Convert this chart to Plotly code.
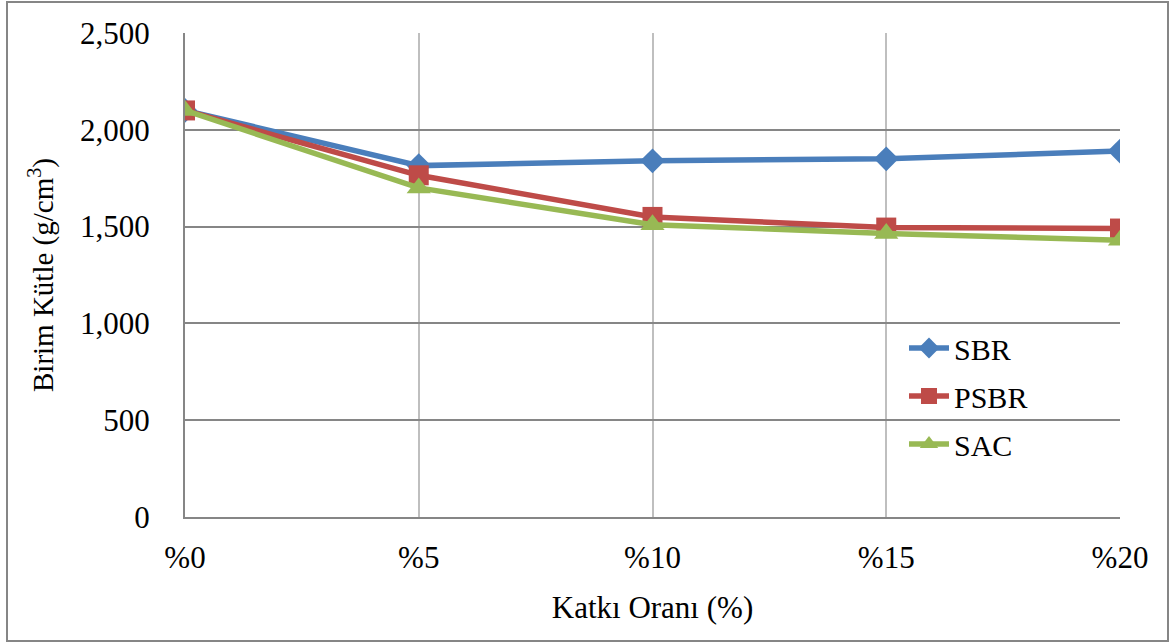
import plotly.graph_objects as go

categories = ["%0", "%5", "%10", "%15", "%20"]
sbr = [2100, 1815, 1840, 1850, 1890]
psbr = [2100, 1765, 1550, 1495, 1490]
sac = [2100, 1700, 1510, 1465, 1430]
y_ticks = [0, 500, 1000, 1500, 2000, 2500]
y_ticktext = ["0", "500", "1,000", "1,500", "2,000", "2,500"]

FONT = "Liberation Serif, Times New Roman, serif"

fig = go.Figure()
series = [
    ("SBR", sbr, "#4A7EBB", "diamond", 19),
    ("PSBR", psbr, "#BE4B48", "square", 20),
    ("SAC", sac, "#98B954", "triangle-up", 21),
]
for name, vals, col, sym, sz in series:
    fig.add_trace(go.Scatter(
        x=categories, y=vals, name=name, mode="lines+markers",
        line=dict(color=col, width=5.5),
        marker=dict(symbol=sym, size=sz, color=col),
        legendgroup=name,
    ))

L, R, T, B = 185, 51, 33, 126
W, H = 1171, 643
pw = W - L - R
ph = H - T - B

def px_x(px):
    return (px - L) / pw

def px_y(py):
    return (H - B - py) / ph

fig.update_layout(
    width=W, height=H,
    margin=dict(l=L, r=R, t=T, b=B),
    paper_bgcolor="white", plot_bgcolor="white",
    font=dict(family=FONT, size=31, color="black"),
    showlegend=True,
    legend=dict(
        x=px_x(904), y=px_y(322), xanchor="left", yanchor="top",
        bgcolor="rgba(0,0,0,0)", font=dict(size=30, family=FONT),
        tracegroupgap=6, itemwidth=40,
    ),
    xaxis=dict(
        type="category", range=[0, 4],
        showgrid=True, gridcolor="#BFBFBF", gridwidth=1.5,
        showline=True, linecolor="#868686", linewidth=2,
        ticks="", ticklabelstandoff=12,
        tickfont=dict(size=31, family=FONT),
        title=dict(text="Katkı Oranı (%)", font=dict(size=31, family=FONT), standoff=22),
        zeroline=False,
    ),
    yaxis=dict(
        range=[0, 2500], tickvals=y_ticks, ticktext=y_ticktext,
        showgrid=True, gridcolor="#868686", gridwidth=1.5,
        showline=True, linecolor="#868686", linewidth=2,
        ticks="", ticklabelstandoff=27,
        tickfont=dict(size=31, family=FONT),
        title=dict(text="Birim Kütle (g/cm<sup>3</sup>)", font=dict(size=29, family=FONT), standoff=18),
        zeroline=False,
    ),
    shapes=[dict(
        type="rect", xref="paper", yref="paper",
        x0=px_x(7), x1=px_x(1168), y0=px_y(641), y1=px_y(2),
        line=dict(color="#868686", width=2), fillcolor="rgba(0,0,0,0)",
        layer="below",
    )],
)

fig.write_html("out.html")
